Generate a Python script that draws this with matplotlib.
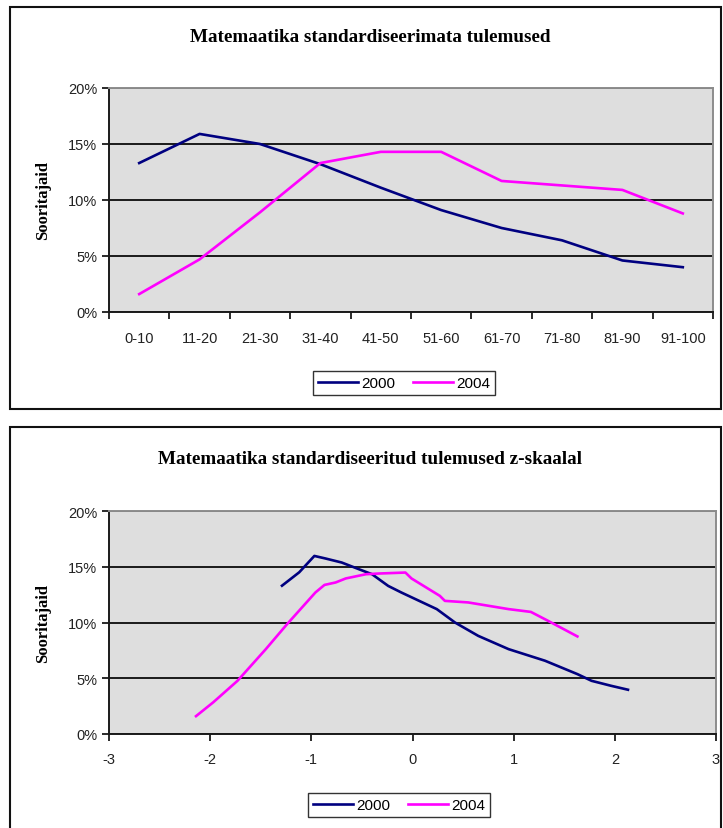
import matplotlib
matplotlib.use("Agg")
import matplotlib.pyplot as plt
from matplotlib.patches import Rectangle
from matplotlib.ticker import FuncFormatter, FixedLocator

plt.rcParams["axes.unicode_minus"] = False

# --- data ---------------------------------------------------------------
categories = ["0-10", "11-20", "21-30", "31-40", "41-50",
              "51-60", "61-70", "71-80", "81-90", "91-100"]
raw_2000 = [13.3, 15.9, 15.0, 13.2, 11.1, 9.1, 7.5, 6.4, 4.6, 4.0]
raw_2004 = [1.6, 4.7, 8.9, 13.3, 14.3, 14.3, 11.7, 11.3, 10.9, 8.8]

z_2000_x = [-1.29, -1.12, -0.97, -0.86, -0.70, -0.53, -0.40, -0.24, -0.11,
            0.24, 0.42, 0.65, 0.95, 1.31, 1.63, 1.77, 1.96, 2.13]
z_2000_y = [13.3, 14.5, 15.97, 15.74, 15.38, 14.78, 14.33, 13.28, 12.69,
            11.2, 10.0, 8.8, 7.61, 6.57, 5.37, 4.77, 4.33, 3.97]
z_2004_x = [-2.14, -1.97, -1.73, -1.45, -1.24, -0.96, -0.87, -0.76, -0.66,
            -0.46, -0.34, -0.07, -0.01, 0.27, 0.32, 0.55, 0.95, 1.17, 1.34, 1.63]
z_2004_y = [1.6, 2.84, 4.77, 7.61, 9.85, 12.69, 13.37, 13.59, 13.95,
            14.33, 14.39, 14.48, 13.95, 12.39, 11.94, 11.8, 11.2, 10.95, 10.15, 8.75]

titles = ["Matemaatika standardiseerimata tulemused",
          "Matemaatika standardiseeritud tulemused z-skaalal"]
ylabel = "Sooritajaid"
years = ["2000", "2004"]
colors = ["#000080", "#FF00FF"]

W, H = 723, 829
fig = plt.figure(figsize=(W / 100, H / 100), dpi=100)
fig.patch.set_facecolor("white")

serif = "Liberation Serif"
sans = "Liberation Sans"


def px_rect(x0, y0, x1, y1):
    # pixel box (top-left origin) -> figure fraction rect
    return [x0 / W, 1 - y1 / H, (x1 - x0) / W, (y1 - y0) / H]


def style_axes(ax):
    ax.set_facecolor("#DEDEDE")
    ax.set_ylim(0, 20)
    ax.set_yticks([0, 5, 10, 15, 20])
    ax.yaxis.set_major_formatter(FuncFormatter(lambda v, p: f"{int(v)}%"))
    ax.yaxis.grid(True, color="#1a1a1a", lw=1.4)
    ax.set_axisbelow(True)
    for s in ["top", "right"]:
        ax.spines[s].set_color("#8c8c8c")
        ax.spines[s].set_linewidth(1.4)
    for s in ["left", "bottom"]:
        ax.spines[s].set_color("#1a1a1a")
        ax.spines[s].set_linewidth(1.4)
    ax.tick_params(axis="both", direction="out", length=5, width=1.3,
                   color="#1a1a1a", labelsize=10.5, labelcolor="#222222")
    for lab in ax.get_yticklabels() + ax.get_xticklabels():
        lab.set_fontfamily(sans)
    ax.set_ylabel(ylabel, fontfamily=serif, fontweight="bold", fontsize=12,
                  labelpad=12)


def frame(y0, y1):
    fig.add_artist(Rectangle((10 / W, 1 - y1 / H), (721 - 10) / W, (y1 - y0) / H,
                             transform=fig.transFigure, fill=False,
                             edgecolor="#111111", lw=1.5))


legend_kw = dict(loc="center", ncol=2, frameon=True, fancybox=False,
                 edgecolor="#333333", framealpha=1,
                 prop={"family": sans, "size": 11}, handlelength=2.6,
                 handletextpad=0.2, columnspacing=1.2, borderpad=0.35)

# --- top chart ----------------------------------------------------------
frame(8, 410)
ax1 = fig.add_axes(px_rect(109, 89, 713, 313))
xs = list(range(len(categories)))
l1, = ax1.plot(xs, raw_2000, color=colors[0], lw=1.9)
l2, = ax1.plot(xs, raw_2004, color=colors[1], lw=1.9)
ax1.set_xlim(-0.5, len(categories) - 0.5)
ax1.xaxis.set_major_locator(FixedLocator([i - 0.5 for i in range(len(categories) + 1)]))
ax1.set_xticklabels([])
ax1.set_xticks(xs, minor=True)
ax1.set_xticklabels(categories, minor=True)
ax1.tick_params(axis="x", which="minor", length=0, pad=14)
style_axes(ax1)
for lab in ax1.get_xticklabels(minor=True):
    lab.set_fontfamily(sans)
    lab.set_fontsize(10.5)
    lab.set_color("#222222")
fig.text(370 / W, 1 - 38 / H, titles[0], ha="center", va="center",
         fontfamily=serif, fontweight="bold", fontsize=13.8)
fig.legend([l1, l2], years, bbox_to_anchor=(404 / W, 1 - 384 / H), **legend_kw)

# --- bottom chart -------------------------------------------------------
frame(428, 840)
ax2 = fig.add_axes(px_rect(109, 512, 716, 735))
m1, = ax2.plot(z_2000_x, z_2000_y, color=colors[0], lw=1.9)
m2, = ax2.plot(z_2004_x, z_2004_y, color=colors[1], lw=1.9)
ax2.set_xlim(-3, 3)
ax2.set_xticks([-3, -2, -1, 0, 1, 2, 3])
ax2.set_xticklabels(["-3", "-2", "-1", "0", "1", "2", "3"])
ax2.tick_params(axis="x", pad=8)
style_axes(ax2)
fig.text(370 / W, 1 - 460 / H, titles[1], ha="center", va="center",
         fontfamily=serif, fontweight="bold", fontsize=13.8)
fig.legend([m1, m2], years, bbox_to_anchor=(399 / W, 1 - 806 / H), **legend_kw)

fig.savefig("out.png", dpi=100)
